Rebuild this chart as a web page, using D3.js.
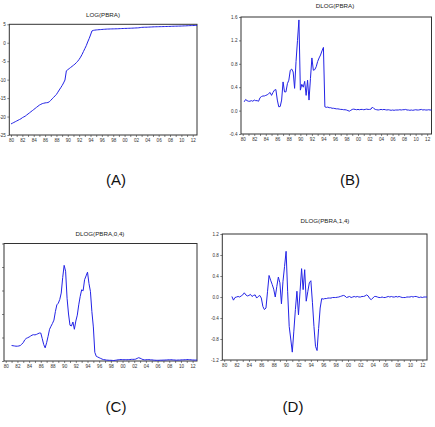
<!DOCTYPE html>
<html><head><meta charset="utf-8">
<script src="https://cdn.jsdelivr.net/npm/d3@7"></script>
<style>body{margin:0;background:#fff}svg{display:block}</style>
</head><body>
<script>
// Quarterly data, 1980Q1 .. 2012Q4
const firstYear = 1980;
const yearTicks = d3.range(1980, 2013);

// LOG(PBRA), from 1980Q1
const logPbra = [
 -22.0,-21.8,-21.6,-21.4, -21.2,-21.0,-20.8,-20.6, -20.3,-20.1,-19.9,-19.6, -19.3,-19.0,-18.7,-18.4,
 -18.1,-17.8,-17.5,-17.2, -16.9,-16.7,-16.5,-16.4, -16.3,-16.25,-16.2,-16.0, -15.6,-15.2,-14.8,-14.4,
 -14.0,-13.4,-12.8,-12.2, -11.6,-10.9,-10.1,-7.6, -7.3,-7.0,-6.7,-6.4, -6.1,-5.8,-5.4,-5.0,
 -4.5,-3.9,-3.2,-2.4, -1.6,-0.8,0.2,1.1, 2.1,3.2,3.35,3.42, 3.47,3.51,3.54,3.57,
 3.60,3.63,3.66,3.69, 3.71,3.72,3.74,3.75, 3.76,3.77,3.78,3.79, 3.81,3.83,3.85,3.86,
 3.88,3.89,3.90,3.92, 3.93,3.95,3.97,3.99, 4.01,4.03,4.06,4.11, 4.16,4.19,4.20,4.21,
 4.22,4.24,4.26,4.28, 4.30,4.32,4.33,4.34, 4.35,4.36,4.37,4.38, 4.39,4.40,4.41,4.42,
 4.43,4.45,4.47,4.48, 4.49,4.50,4.51,4.52, 4.53,4.55,4.57,4.58, 4.60,4.62,4.64,4.65,
 4.66,4.67,4.69,4.70
];

// DLOG(PBRA), from 1980Q2
const dlogPbra = [
 0.15,0.19,0.17,
 0.16,0.16,0.17,0.16, 0.18,0.17,0.17,0.16, 0.22,0.24,0.25,0.25, 0.26,0.27,0.29,0.31,
 0.26,0.31,0.35,0.36, 0.18,0.065,0.07,0.18, 0.49,0.32,0.32,0.46, 0.52,0.69,0.71,0.66,
 0.38,0.84,1.20,1.55, 0.35,0.45,0.40,0.50, 0.26,0.52,0.18,0.55, 0.90,0.69,0.70,0.75,
 0.84,0.90,0.95,1.02, 1.08,0.065,0.055,0.06, 0.05,0.05,0.04,0.04, 0.035,0.03,0.03,0.025,
 0.02,0.02,0.015,0.015, 0.01,0.0,-0.01,0.005, 0.02,0.025,0.02,0.015, 0.02,0.015,0.02,0.02,
 0.015,0.02,0.025,0.02, 0.02,0.025,0.06,0.035, 0.02,0.015,0.01,0.015, 0.02,0.015,0.02,0.015,
 0.01,0.015,0.01,0.005, 0.01,0.005,0.01,0.01, 0.01,0.015,0.01,0.015, 0.015,0.02,0.01,0.01,
 0.005,0.01,0.005,0.01, 0.015,0.01,0.01,0.015, 0.02,0.01,0.015,0.01, 0.01,0.015,0.01,0.01
];

// DLOG(PBRA,0,4), from 1981Q1
const dlogPbra04 = [
 0.66,0.65,0.64,0.63, 0.63,0.64,0.66,0.72, 0.78,0.90,0.96,0.99, 1.02,1.06,1.10,1.12,
 1.11,1.13,1.16,1.19, 1.19,0.95,0.70,0.56, 0.78,1.05,1.35,1.48, 1.60,1.74,2.10,2.39,
 2.46,2.62,2.89,3.55, 4.07,3.82,2.67,2.00, 1.52,1.49,1.66,1.35, 1.70,1.95,2.39,2.75,
 3.03,2.99,3.46,3.62, 3.78,3.30,2.96,2.10, 1.45,0.37,0.20,0.17, 0.14,0.11,0.08,0.06,
 0.05,0.04,0.035,0.03, 0.03,0.025,0.02,0.03, 0.04,0.05,0.06,0.06, 0.06,0.05,0.06,0.05,
 0.06,0.06,0.07,0.07, 0.07,0.08,0.11,0.14, 0.12,0.09,0.06,0.05, 0.05,0.06,0.06,0.05,
 0.05,0.04,0.035,0.03, 0.03,0.03,0.035,0.035, 0.04,0.04,0.045,0.05, 0.05,0.055,0.05,0.045,
 0.04,0.035,0.04,0.04, 0.045,0.05,0.05,0.055, 0.06,0.06,0.055,0.05, 0.045,0.04,0.04,0.04
];

// DLOG(PBRA,1,4), from 1981Q2
const dlogPbra14 = [
 0.01,-0.06,-0.01,
 0.00,0.01,0.00,0.02, 0.04,0.08,0.04,0.02, 0.03,0.05,0.01,0.03, 0.04,-0.02,0.01,0.03,
 -0.02,-0.18,-0.24,-0.21, 0.10,0.41,0.32,0.24, 0.15,0.00,0.20,0.38, 0.27,-0.13,0.30,0.58,
 0.87,0.10,-0.56,-0.80, -1.05,-0.65,-0.24,0.11, -0.34,0.10,0.54,0.14, 0.52,-0.08,0.10,0.27,
 0.31,-0.10,-0.56,-0.94, -1.02,-0.60,-0.21,-0.03, -0.04,-0.03,-0.03,-0.02, -0.02,-0.02,-0.01,-0.01,
 -0.01,-0.005,0.0,0.01, 0.02,0.03,0.02,-0.01, 0.0,0.01,-0.01,0.0, 0.01,0.0,0.01,0.0,
 0.0,0.01,0.01,0.02, 0.04,0.02,-0.03,-0.05, -0.02,0.01,0.01,0.0, -0.01,-0.01,0.0,-0.01,
 -0.01,0.0,0.01,0.0, 0.01,0.0,0.0,0.01, 0.0,0.01,0.0,-0.01, -0.01,-0.01,0.0,0.0,
 0.0,0.01,0.0,0.01, 0.01,0.0,-0.01,0.0, -0.01,0.0,0.0,0.0
];

const ticksA = [5, 0, -5, -10, -15, -20, -25];
const ticksB = [-0.4, 0.0, 0.4, 0.8, 1.2, 1.6];
const ticksC = [0, 1, 2, 3, 4, 5];
const ticksD = [-1.2, -0.8, -0.4, 0.0, 0.4, 0.8, 1.2];
const titles = ["LOG(PBRA)", "DLOG(PBRA)", "DLOG(PBRA,0,4)", "DLOG(PBRA,1,4)"];
const panelLetters = ["(A)", "(B)", "(C)", "(D)"];

const W = 435, H = 427;
const font = "'Liberation Sans', Arial, sans-serif";
const lineColor = "#2323e6";
const frameColor = "#333";
const svg = d3.select("body").append("svg").attr("width", W).attr("height", H)
  .style("font-family", font);

const xDomain = [1979.7, 2012.75];

const panels = [
  {title: titles[0], values: logPbra, startQ: 0, yDomain: [-25, 5], yTicks: ticksA,
   fmt: d => String(d), showY: true, box: [9.3, 24.3, 197, 135], tx: 103, ty: 16.5,
   letter: panelLetters[0], lx: 116, ly: 185},
  {title: titles[1], values: dlogPbra, startQ: 1, yDomain: [-0.4, 1.6], yTicks: ticksB,
   fmt: d => d.toFixed(1), showY: true, box: [241, 17, 431.5, 134], tx: 335, ty: 7.5,
   letter: panelLetters[1], lx: 350, ly: 185},
  {title: titles[2], values: dlogPbra04, startQ: 4, yDomain: [0, 5], yTicks: ticksC,
   fmt: d => "", showY: false, box: [4, 243.5, 197, 361], tx: 100, ty: 235.5,
   letter: panelLetters[2], lx: 116, ly: 412},
  {title: titles[3], values: dlogPbra14, startQ: 5, yDomain: [-1.2, 1.2], yTicks: ticksD,
   fmt: d => d.toFixed(1), showY: true, box: [222.3, 234, 427, 360], tx: 325, ty: 223,
   letter: panelLetters[3], lx: 293, ly: 412}
];

panels.forEach(p => {
  const [x0, y0, x1, y1] = p.box;
  const x = d3.scaleLinear().domain(xDomain).range([x0, x1]);
  const y = d3.scaleLinear().domain(p.yDomain).range([y1, y0]);
  const g = svg.append("g");

  // x axis
  const xa = g.append("g").attr("transform", `translate(0,${y1})`)
    .call(d3.axisBottom(x).tickValues(yearTicks).tickSize(2).tickPadding(1.5)
      .tickFormat(d => d % 2 === 0 ? String(d % 100).padStart(2, "0") : ""));
  xa.select(".domain").remove();
  xa.selectAll("line").attr("stroke", frameColor).attr("stroke-width", 0.6);
  xa.selectAll("text").attr("font-size", 4.6).attr("font-family", font).attr("fill", "#333");

  // y axis
  const ya = g.append("g").attr("transform", `translate(${x0},0)`)
    .call(d3.axisLeft(y).tickValues(p.yTicks).tickSize(2).tickPadding(1.5)
      .tickFormat(p.showY ? p.fmt : () => ""));
  ya.select(".domain").remove();
  ya.selectAll("line").attr("stroke", frameColor).attr("stroke-width", 0.6);
  ya.selectAll("text").attr("font-size", 4.6).attr("font-family", font).attr("fill", "#333");

  // frame
  g.append("rect").attr("x", x0).attr("y", y0).attr("width", x1 - x0).attr("height", y1 - y0)
    .attr("fill", "none").attr("stroke", frameColor).attr("stroke-width", 1);

  // series line
  const pts = p.values.map((v, i) => ({t: firstYear + (p.startQ + i) / 4, v}));
  g.append("path").datum(pts)
    .attr("fill", "none").attr("stroke", lineColor).attr("stroke-width", 1)
    .attr("stroke-linejoin", "round")
    .attr("d", d3.line().x(d => x(d.t)).y(d => y(d.v)));

  // title
  g.append("text").attr("x", p.tx).attr("y", p.ty).attr("text-anchor", "middle")
    .attr("font-size", 6.2).attr("fill", "#222").text(p.title);

  // panel letter
  svg.append("text").attr("x", p.lx).attr("y", p.ly).attr("text-anchor", "middle")
    .attr("font-size", 15).attr("fill", "#111").text(p.letter);
});
</script>
</body></html>
